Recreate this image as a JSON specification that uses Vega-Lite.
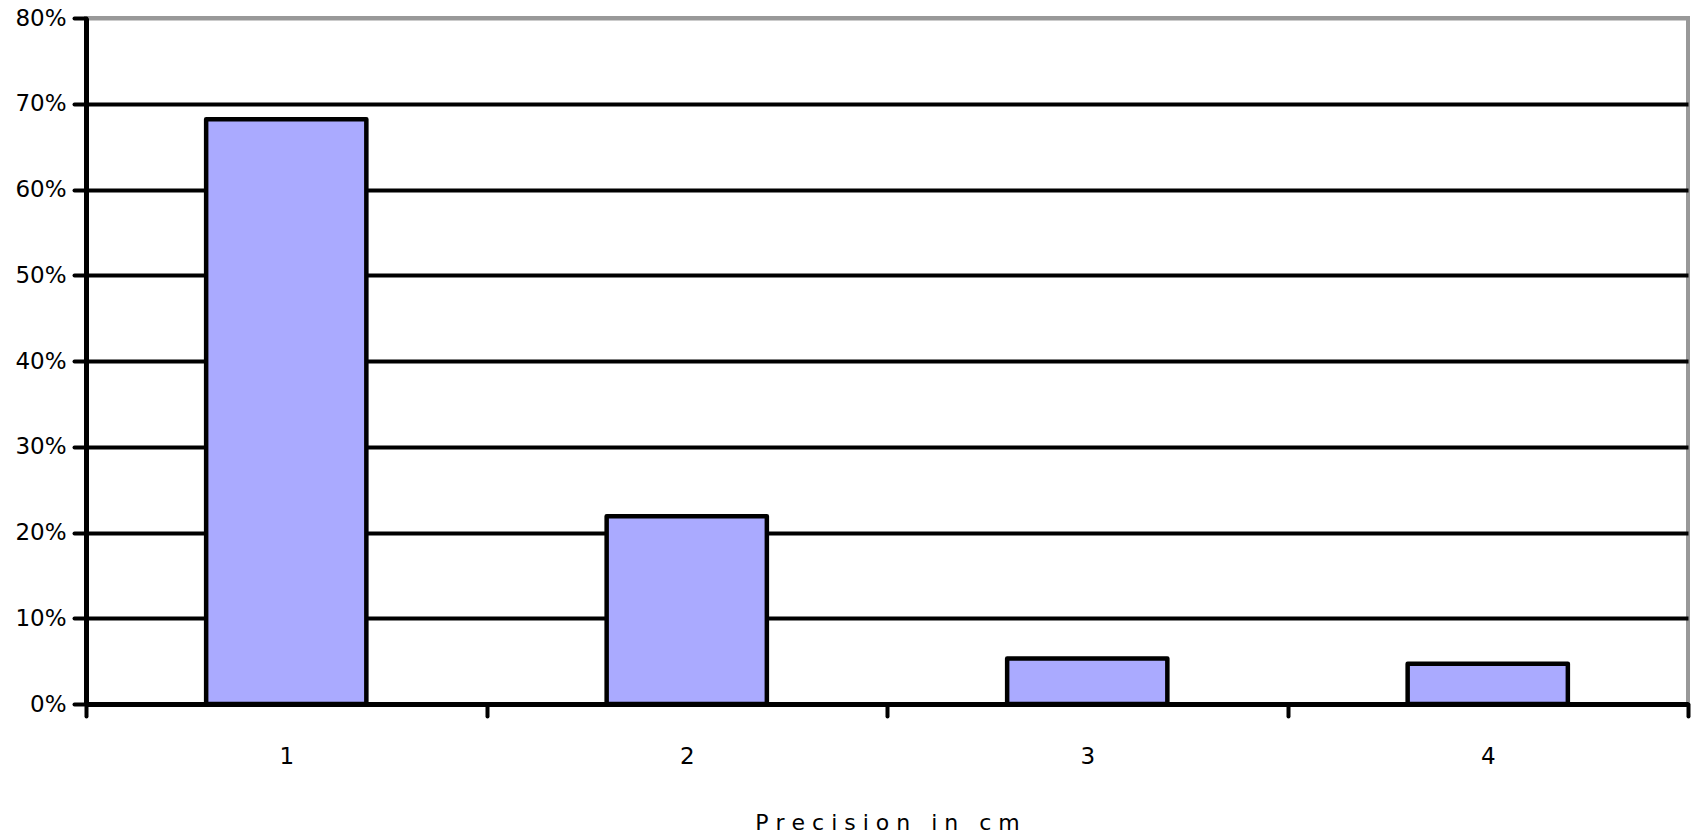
{
  "$schema": "https://vega.github.io/schema/vega-lite/v6.json",
  "autosize": "none",
  "width": 1602,
  "height": 686,
  "padding": {"left": 86, "top": 18, "right": 10, "bottom": 135},
  "background": "white",
  "data": {
    "values": [
      {"precision": "1", "share": 0.682},
      {"precision": "2", "share": 0.219},
      {"precision": "3", "share": 0.053},
      {"precision": "4", "share": 0.047}
    ]
  },
  "mark": {"type": "bar", "fill": "#AAAAFF", "stroke": "black", "strokeWidth": 4.5, "strokeJoin": "round", "width": {"band": 0.4}},
  "encoding": {
    "x": {
      "field": "precision",
      "type": "ordinal",
      "scale": {"paddingInner": 0, "paddingOuter": 0},
      "axis": {
        "labelAngle": 0,
        "tickBand": "extent",
        "grid": false,
        "domainColor": "black",
        "domainWidth": 5,
        "tickColor": "black",
        "tickWidth": 4,
        "tickSize": 12,
        "tickCap": "round",
        "labelFont": "DejaVu Sans",
        "labelFontSize": 23,
        "labelColor": "black",
        "labelPadding": 29,
        "title": "P r e c i s i o n \u00a0 i n \u00a0 c m",
        "titleFont": "DejaVu Sans",
        "titleFontSize": 22,
        "titleFontWeight": "normal",
        "titleColor": "black",
        "titlePadding": 44
      }
    },
    "y": {
      "field": "share",
      "type": "quantitative",
      "scale": {"domain": [0, 0.8], "nice": false},
      "axis": {
        "values": [0, 0.1, 0.2, 0.3, 0.4, 0.5, 0.6, 0.7, 0.8],
        "format": ".0%",
        "title": null,
        "domainColor": "black",
        "domainWidth": 5,
        "tickColor": "black",
        "tickWidth": 4,
        "tickSize": 12,
        "tickCap": "round",
        "grid": true,
        "gridColor": {"condition": {"test": "datum.value >= 0.8", "value": "#999999"}, "value": "black"},
        "gridWidth": 4,
        "gridOpacity": 1,
        "labelFont": "DejaVu Sans",
        "labelFontSize": 23,
        "labelColor": "black",
        "labelPadding": 8
      }
    }
  },
  "config": {
    "view": {"stroke": "#999999", "strokeWidth": 4}
  }
}
